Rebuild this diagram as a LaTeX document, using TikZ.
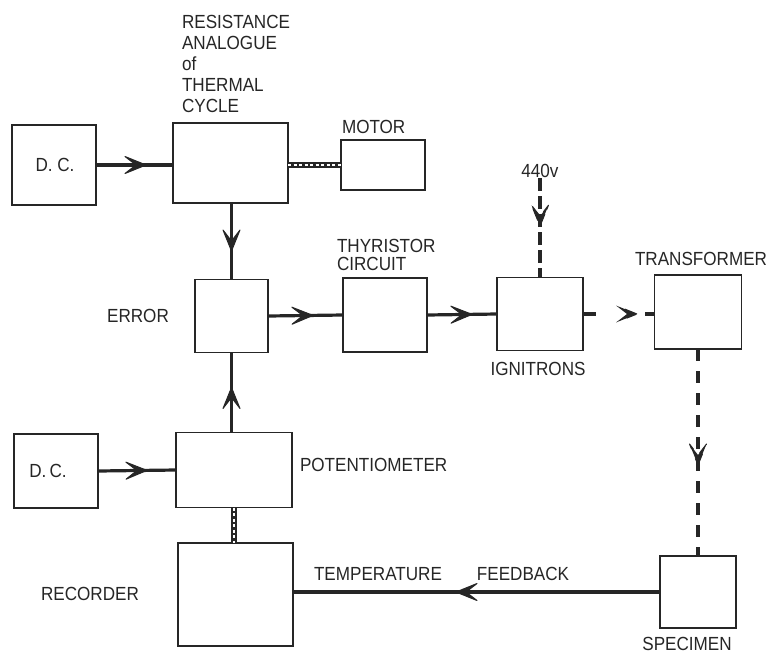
\documentclass[tikz,border=0pt]{standalone}
\usepackage{fontspec}
\setmainfont{Liberation Sans}[FakeStretch=0.9]
\usetikzlibrary{decorations.markings}
\definecolor{ink}{gray}{0.15}
\begin{document}
\begin{tikzpicture}[x=1pt,y=-1pt,
  every node/.style={font=\fontsize{19}{21}\selectfont, text=ink, inner sep=0pt, outer sep=0pt},
  box/.style={draw=ink, line width=1.6pt},
  conn/.style={draw=ink, line width=3.2pt},
  dashconn/.style={draw=ink, line width=3.2pt, dash pattern=on 13pt off 5pt},
  hatch/.style={draw=ink, line width=5.5pt, postaction={draw=white, line width=1.4pt, dash pattern=on 3pt off 2.5pt}},
  midarrow/.style={postaction={decorate, decoration={markings,
      mark=at position #1 with {\filldraw[ink, line width=1pt, line join=round] (0pt,0pt) -- (-21pt,8.5pt) -- (-10pt,0pt) -- (-21pt,-8.5pt) -- cycle;}}}},
  lbl/.style={anchor=base}, lblw/.style={anchor=base west, align=left}
]
\useasboundingbox (0,0) rectangle (775,656);

% boxes
\node[box, minimum width=84pt, minimum height=80pt] (dc1) at (54,165) {};
\node[box, minimum width=115pt, minimum height=80pt] (res) at (230.5,163) {};
\node[box, minimum width=84pt, minimum height=50pt] (motor) at (383,165) {};
\node[box, minimum width=73pt, minimum height=73pt] (err) at (231.5,316) {};
\node[box, minimum width=84pt, minimum height=74pt] (thy) at (385,315) {};
\node[box, minimum width=86pt, minimum height=73pt] (ign) at (540,314) {};
\node[box, minimum width=87pt, minimum height=74pt] (trans) at (698,312) {};
\node[box, minimum width=84pt, minimum height=74pt] (dc2) at (56,471) {};
\node[box, minimum width=116pt, minimum height=75pt] (pot) at (234,470) {};
\node[box, minimum width=115pt, minimum height=103pt] (rec) at (235.5,594.5) {};
\node[box, minimum width=76pt, minimum height=72pt] (spec) at (698,592) {};

% labels
\node[lblw] (tres) at (182,112) {RESISTANCE\\ANALOGUE\\of\\THERMAL\\CYCLE};
\node[lblw] (tmotor) at (342,133) {MOTOR};
\node[lbl] (tdc1) at (55,171) {D.\ C.};
\node[lblw, font=\fontsize{19}{18}\selectfont] (tthy) at (337,270) {THYRISTOR\\CIRCUIT};
\node[lbl] (v440) at (540,177) {440v};
\node[lbl] (tign) at (538,375) {IGNITRONS};
\node[lblw] (ttrans) at (635,265) {TRANSFORMER};
\node[lbl] (terr) at (138,322) {ERROR};
\node[lblw] (tpot) at (300,471) {POTENTIOMETER};
\node[lbl] (tdc2) at (48,477) {D.\,C.};
\node[lbl] (trec) at (90,600) {RECORDER};
\node[lbl] (ttemp) at (378,580) {TEMPERATURE};
\node[lbl] (tfeed) at (523,580) {FEEDBACK};
\node[lbl] (tspec) at (687,650) {SPECIMEN};

% connectors
\draw[conn, midarrow=50pt] (dc1.east) -- (dc1.east -| res.west);
\draw[hatch] (res.east |- motor.west) -- (motor.west);
\draw[conn, midarrow=48pt] (err.north |- res.south) -- (err.north);
\draw[conn, midarrow=45pt] (err.south |- pot.north) -- (err.south);
\draw[conn, midarrow=45pt] (err.east) -- (thy.west);
\draw[conn, midarrow=45pt] (thy.east) -- (ign.west);
\draw[conn, dash pattern=on 13pt off 49pt on 10pt, midarrow=54pt] (ign.east) -- (ign.east -| trans.west);
\draw[dashconn, midarrow=48pt] ([yshift=-1pt]v440.south) -- (ign.north);
\draw[conn, dash pattern=on 12pt off 10pt, midarrow=116pt] (trans.south) -- (spec.north);
\draw[hatch] (pot.south) -- (pot.south |- rec.north);
\draw[conn, midarrow=204pt] (spec.west) -- (spec.west -| rec.east);
\draw[conn, midarrow=49pt] (dc2.east) -- (pot.west);
\end{tikzpicture}
\end{document}
